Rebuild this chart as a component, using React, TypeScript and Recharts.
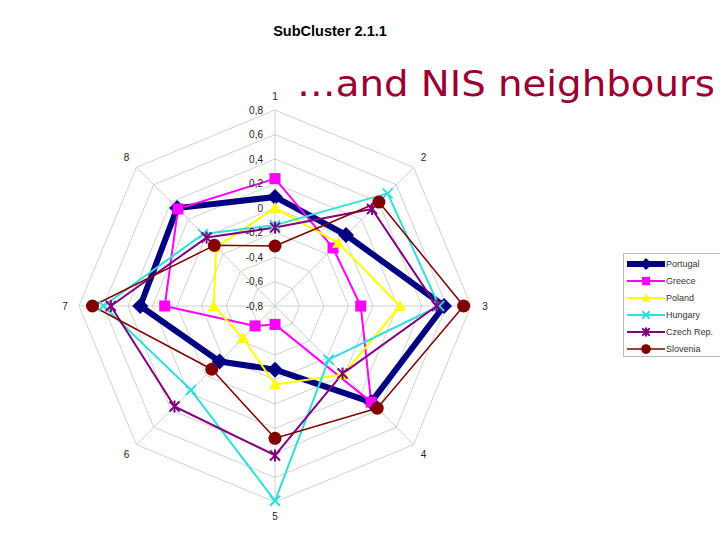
import React from 'react';
import { RadarChart, Radar, PolarGrid, PolarAngleAxis, PolarRadiusAxis, Legend } from 'recharts';

// axes of the spider, clockwise from the top
const axisLabels = ['1', '2', '3', '4', '5', '6', '7', '8'];

const portugal = [0.09, 0.02, 0.58, 0.31, -0.28, -0.16, 0.3, 0.33];
const greece = [0.24, -0.13, -0.1, 0.31, -0.65, -0.57, 0.1, 0.32];
const poland = [0.0, -0.07, 0.22, -0.01, -0.16, -0.43, -0.3, -0.12];
const hungary = [-0.14, 0.5, 0.54, -0.18, 0.79, 0.17, 0.6, 0.03];
const czech = [-0.16, 0.32, 0.52, -0.02, 0.42, 0.36, 0.54, -0.01];
const slovenia = [-0.31, 0.4, 0.74, 0.38, 0.28, -0.07, 0.69, -0.1];

const radiusDomain = [-0.8, 0.8];
const radiusTicks = [-0.8, -0.6, -0.4, -0.2, 0, 0.2, 0.4, 0.6, 0.8];

const CX = 275;
const CY = 306;
const R = 196;

type MarkerKind = 'diamond' | 'square' | 'triangle' | 'cross' | 'star' | 'circle';

const series: { name: string; values: number[]; color: string; width: number; marker: MarkerKind }[] = [
  { name: 'Portugal', values: portugal, color: '#000080', width: 6, marker: 'diamond' },
  { name: 'Greece', values: greece, color: '#FF00FF', width: 2, marker: 'square' },
  { name: 'Poland', values: poland, color: '#FFFF00', width: 2, marker: 'triangle' },
  { name: 'Hungary', values: hungary, color: '#33DDDD', width: 2, marker: 'cross' },
  { name: 'Czech Rep.', values: czech, color: '#800080', width: 2, marker: 'star' },
  { name: 'Slovenia', values: slovenia, color: '#800000', width: 1.5, marker: 'circle' },
];

const data = axisLabels.map((label, i) => {
  const row: Record<string, any> = { axis: label };
  series.forEach((s) => {
    row[s.name] = s.values[i];
  });
  return row;
});

const Marker = ({ kind, color, x, y, scale = 1 }: { kind: MarkerKind; color: string; x: number; y: number; scale?: number }) => {
  const s = scale;
  switch (kind) {
    case 'diamond':
      return <polygon points={`${x},${y - 8 * s} ${x + 8 * s},${y} ${x},${y + 8 * s} ${x - 8 * s},${y}`} fill={color} />;
    case 'square':
      return <rect x={x - 5.5 * s} y={y - 5.5 * s} width={11 * s} height={11 * s} fill={color} />;
    case 'triangle':
      return <polygon points={`${x},${y - 6 * s} ${x + 6 * s},${y + 5 * s} ${x - 6 * s},${y + 5 * s}`} fill={color} />;
    case 'cross':
      return (
        <g stroke={color} strokeWidth={2}>
          <line x1={x - 5 * s} y1={y - 5 * s} x2={x + 5 * s} y2={y + 5 * s} />
          <line x1={x - 5 * s} y1={y + 5 * s} x2={x + 5 * s} y2={y - 5 * s} />
        </g>
      );
    case 'star':
      return (
        <g stroke={color} strokeWidth={2}>
          <line x1={x - 5 * s} y1={y - 5 * s} x2={x + 5 * s} y2={y + 5 * s} />
          <line x1={x - 5 * s} y1={y + 5 * s} x2={x + 5 * s} y2={y - 5 * s} />
          <line x1={x} y1={y - 6 * s} x2={x} y2={y + 6 * s} />
        </g>
      );
    default:
      return <circle cx={x} cy={y} r={6.5 * s} fill={color} />;
  }
};

const makeDot = (kind: MarkerKind, color: string) => (p: any) => (
  <Marker key={`${kind}-${p.index}`} kind={kind} color={color} x={p.cx} y={p.cy} />
);

const fmt = (v: number) => {
  const r = Math.round(v * 10) / 10;
  return r === 0 ? '0' : String(r).replace('.', ',');
};

const RadiusTick = (p: any) => (
  <text x={p.x - 12} y={p.y} textAnchor="end" dominantBaseline="central" fontSize={10} fill="#222" fontFamily="Liberation Sans, Arial">
    {fmt(p.payload.value)}
  </text>
);

const AngleTick = (p: any) => {
  const a = (p.payload.coordinate * Math.PI) / 180;
  const r = R + 14;
  const x = CX + r * Math.cos(a);
  const y = CY - r * Math.sin(a);
  return (
    <text x={x} y={y} textAnchor="middle" dominantBaseline="central" fontSize={10} fill="#222" fontFamily="Liberation Sans, Arial">
      {p.payload.value}
    </text>
  );
};

const LegendBox = () => (
  <svg width={97} height={105} style={{ display: 'block' }}>
    <rect x={0.5} y={0.5} width={100} height={103} fill="#fff" stroke="#bbb" />
    {series.map((s, i) => {
      const y = 11 + i * 17;
      return (
        <g key={s.name}>
          <line x1={4} y1={y} x2={42} y2={y} stroke={s.color} strokeWidth={s.width} />
          <Marker kind={s.marker} color={s.color} x={23} y={y} scale={0.75} />
          <text x={43} y={y} dominantBaseline="central" fontSize={9} fill="#333" fontFamily="Liberation Sans, Arial">
            {s.name}
          </text>
        </g>
      );
    })}
  </svg>
);

export default function App() {
  return (
    <div style={{ position: 'absolute', left: 0, top: 0, width: 720, height: 540, background: '#fff' }}>
      <RadarChart
        width={720}
        height={540}
        data={data}
        cx={CX}
        cy={CY}
        outerRadius={R}
        startAngle={90}
        endAngle={-270}
        margin={{ top: 0, right: 0, bottom: 0, left: 0 }}
      >
        <PolarGrid gridType="polygon" stroke="#c4c4c4" strokeWidth={0.8} />
        <PolarAngleAxis dataKey="axis" tick={AngleTick} tickLine={false} axisLine={false} />
        <PolarRadiusAxis
          angle={90}
          type="number"
          domain={radiusDomain}
          ticks={radiusTicks as any}
          tickCount={9}
          allowDecimals={true}
          allowDataOverflow={true}
          axisLine={false}
          tickLine={false}
          tick={RadiusTick}
        />
        {series.map((s) => (
          <Radar
            key={s.name}
            name={s.name}
            dataKey={s.name}
            stroke={s.color}
            strokeWidth={s.width}
            strokeLinejoin="round"
            fill="none"
            fillOpacity={0}
            dot={makeDot(s.marker, s.color)}
            isAnimationActive={false}
          />
        ))}
        <Legend
          layout="vertical"
          align="right"
          verticalAlign="top"
          content={<LegendBox />}
          wrapperStyle={{ left: 623, top: 253, width: 97, height: 105 }}
        />
      </RadarChart>
      <svg width={720} height={540} style={{ position: 'absolute', left: 0, top: 0, pointerEvents: 'none' }}>
        <text x={330} y={36} textAnchor="middle" fontSize={14.5} fontWeight="bold" fill="#000" fontFamily="Liberation Sans, Arial">
          SubCluster 2.1.1
        </text>
        <text
          x={297}
          y={96}
          fontSize={36}
          fill="#990033"
          fontFamily="DejaVu Sans, Verdana"
          textLength={418}
          lengthAdjust="spacingAndGlyphs"
        >
          …and NIS neighbours
        </text>
      </svg>
    </div>
  );
}
